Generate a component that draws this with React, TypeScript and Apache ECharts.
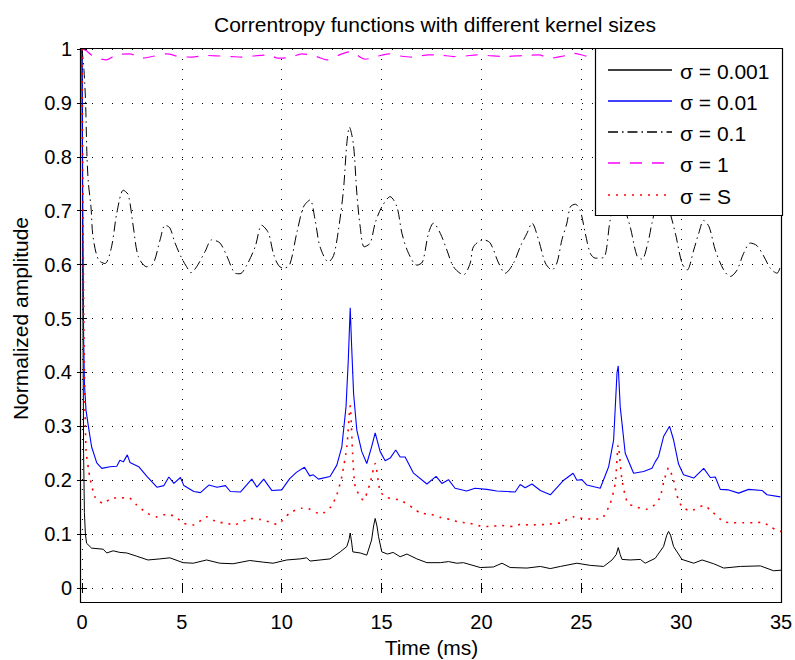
import React, { useEffect, useRef } from "react";
import * as echarts from "echarts";

const titleText = "Correntropy functions with different kernel sizes";
const xName = "Time (ms)";
const yName = "Normalized amplitude";
const legendNames = ["σ = 0.001", "σ = 0.01", "σ = 0.1", "σ = 1", "σ = S"];

const sigma0001: [number, number][] = [
  [0, 1], [0.04, 0.55], [0.08, 0.25], [0.12, 0.14], [0.17, 0.1], [0.23, 0.083], [0.48, 0.074], [1.06, 0.072],
  [1.24, 0.065], [1.56, 0.069], [1.9, 0.066], [2.24, 0.065], [2.74, 0.059], [3.3, 0.052], [3.9, 0.054],
  [4.4, 0.056], [5.06, 0.047], [5.57, 0.046], [6.24, 0.052], [6.9, 0.046], [7.57, 0.045], [8.4, 0.051],
  [9.07, 0.048], [9.57, 0.046], [10.25, 0.052], [10.92, 0.054], [11.25, 0.056], [11.42, 0.05], [11.92, 0.052],
  [12.42, 0.054], [12.93, 0.067], [13.26, 0.077], [13.37, 0.09], [13.43, 0.102], [13.5, 0.085], [13.56, 0.067],
  [13.93, 0.065], [14.26, 0.061], [14.5, 0.089], [14.6, 0.115], [14.68, 0.129], [14.77, 0.115], [14.85, 0.095],
  [15.01, 0.067], [15.3, 0.063], [15.58, 0.066], [15.93, 0.058], [16.27, 0.063], [16.77, 0.054], [17.27, 0.047],
  [17.94, 0.047], [18.35, 0.049], [18.77, 0.046], [19.1, 0.047], [19.94, 0.038], [20.6, 0.039], [21.03, 0.046],
  [21.44, 0.038], [22.28, 0.037], [22.95, 0.04], [23.45, 0.036], [23.95, 0.04], [24.78, 0.046], [25.45, 0.042],
  [26.12, 0.04], [26.54, 0.052], [26.75, 0.062], [26.85, 0.075], [26.95, 0.062], [27.04, 0.053], [27.45, 0.052],
  [27.96, 0.053], [28.2, 0.046], [28.7, 0.055], [29.12, 0.077], [29.28, 0.098], [29.37, 0.105], [29.47, 0.098],
  [29.62, 0.077], [30.04, 0.053], [30.63, 0.046], [31.05, 0.052], [31.63, 0.045], [32.13, 0.037], [32.97, 0.04],
  [33.97, 0.041], [34.63, 0.032], [35, 0.033],
];

const sigma001: [number, number][] = [
  [0, 1], [0.04, 0.7], [0.08, 0.47], [0.12, 0.38], [0.2, 0.33], [0.32, 0.3], [0.48, 0.262], [0.74, 0.232],
  [0.99, 0.222], [1.4, 0.225], [1.74, 0.226], [1.9, 0.237], [2.07, 0.234], [2.27, 0.247], [2.4, 0.233],
  [2.84, 0.225], [3.25, 0.207], [3.75, 0.187], [4.1, 0.19], [4.35, 0.206], [4.6, 0.194], [4.93, 0.205],
  [5.1, 0.19], [5.6, 0.179], [5.93, 0.177], [6.35, 0.191], [6.76, 0.187], [7.18, 0.19], [7.43, 0.179],
  [7.93, 0.178], [8.5, 0.202], [8.76, 0.187], [9.1, 0.202], [9.5, 0.181], [10.0, 0.182], [10.4, 0.203],
  [10.75, 0.215], [11.14, 0.224], [11.4, 0.208], [11.58, 0.21], [11.84, 0.202], [12.42, 0.207], [12.76, 0.228],
  [13.01, 0.262], [13.22, 0.336], [13.33, 0.42], [13.43, 0.52], [13.5, 0.45], [13.6, 0.36], [13.76, 0.293],
  [14.01, 0.253], [14.26, 0.231], [14.5, 0.262], [14.68, 0.288], [14.93, 0.253], [15.18, 0.236], [15.43, 0.241],
  [15.71, 0.256], [15.93, 0.243], [16.18, 0.243], [16.6, 0.213], [17.27, 0.193], [17.73, 0.207], [18.02, 0.194],
  [18.35, 0.201], [18.68, 0.185], [19.26, 0.18], [19.68, 0.185], [20.27, 0.183], [20.77, 0.18], [21.27, 0.179],
  [21.69, 0.178], [21.94, 0.192], [22.19, 0.186], [22.53, 0.193], [22.95, 0.181], [23.45, 0.173], [24.12, 0.2],
  [24.59, 0.213], [24.78, 0.2], [25.03, 0.201], [25.28, 0.191], [25.95, 0.185], [26.37, 0.225], [26.62, 0.275],
  [26.79, 0.4], [26.85, 0.412], [26.95, 0.336], [27.2, 0.25], [27.62, 0.213], [28.12, 0.216], [28.54, 0.222],
  [28.7, 0.234], [28.87, 0.244], [29.12, 0.281], [29.42, 0.3], [29.62, 0.275], [29.87, 0.23], [30.12, 0.21],
  [30.63, 0.204], [31.13, 0.222], [31.46, 0.205], [31.71, 0.206], [31.96, 0.183], [32.38, 0.182], [32.88, 0.176],
  [33.38, 0.183], [34.05, 0.181], [34.3, 0.173], [34.97, 0.169],
];

const sigma01: [number, number][] = [
  [0, 1], [0.1, 0.96], [0.18, 0.9], [0.25, 0.8], [0.32, 0.751], [0.45, 0.707], [0.55, 0.652], [0.82, 0.609],
  [1.15, 0.602], [1.48, 0.633], [1.74, 0.695], [2.07, 0.738], [2.32, 0.729], [2.57, 0.67], [2.82, 0.615],
  [3.24, 0.596], [3.57, 0.602], [3.91, 0.646], [4.16, 0.673], [4.4, 0.668], [4.66, 0.64], [4.99, 0.612],
  [5.24, 0.596], [5.45, 0.585], [5.74, 0.596], [6.16, 0.624], [6.5, 0.646], [6.91, 0.64], [7.25, 0.616],
  [7.67, 0.584], [7.91, 0.583], [8.25, 0.599], [8.67, 0.633], [9.0, 0.673], [9.33, 0.659], [9.58, 0.621],
  [9.83, 0.599], [10.09, 0.593], [10.4, 0.6], [10.75, 0.658], [11.09, 0.707], [11.42, 0.72], [11.67, 0.683],
  [11.92, 0.633], [12.34, 0.605], [12.6, 0.617], [12.84, 0.664], [13.09, 0.738], [13.26, 0.825], [13.39, 0.855],
  [13.59, 0.823], [13.76, 0.733], [13.93, 0.67], [14.13, 0.633], [14.43, 0.64], [14.68, 0.677], [15.01, 0.707],
  [15.43, 0.726], [15.77, 0.707], [16.02, 0.658], [16.35, 0.621], [16.77, 0.599], [17.05, 0.605], [17.35, 0.658],
  [17.6, 0.677], [17.94, 0.658], [18.27, 0.627], [18.6, 0.596], [19.1, 0.581], [19.44, 0.603], [19.6, 0.633],
  [20.1, 0.646], [20.44, 0.64], [20.86, 0.603], [21.19, 0.584], [21.61, 0.603], [21.94, 0.633], [22.28, 0.658],
  [22.53, 0.677], [22.86, 0.646], [23.2, 0.603], [23.53, 0.59], [23.78, 0.603], [24.03, 0.646], [24.28, 0.677],
  [24.45, 0.707], [24.7, 0.712], [24.95, 0.7], [25.2, 0.658], [25.45, 0.621], [25.7, 0.612], [26.12, 0.613],
  [26.45, 0.683], [26.8, 0.73], [27.1, 0.71], [27.45, 0.67], [27.79, 0.616], [28.04, 0.61], [28.37, 0.646],
  [28.54, 0.677], [28.9, 0.72], [29.3, 0.71], [29.71, 0.658], [30.04, 0.603], [30.3, 0.59], [30.63, 0.627],
  [30.88, 0.658], [31.13, 0.682], [31.4, 0.67], [31.71, 0.627], [32.13, 0.59], [32.46, 0.578], [32.8, 0.59],
  [33.13, 0.621], [33.47, 0.64], [33.8, 0.635], [34.13, 0.616], [34.47, 0.593], [34.8, 0.584], [35, 0.6],
];

const sigma1: [number, number][] = [
  [0, 1], [0.2, 0.997], [0.47, 0.989], [0.8, 0.983], [1.22, 0.98], [1.72, 0.989], [2.39, 0.991], [2.97, 0.983],
  [3.64, 0.987], [4.22, 0.991], [4.89, 0.986], [5.48, 0.985], [6.23, 0.988], [6.9, 0.987], [7.48, 0.986],
  [7.98, 0.985], [8.57, 0.987], [9.32, 0.989], [9.82, 0.983], [10.49, 0.985], [10.99, 0.991], [11.74, 0.986],
  [12.24, 0.98], [13.01, 0.991], [13.43, 0.995], [14.18, 0.981], [14.76, 0.986], [15.35, 0.991], [15.93, 0.987],
  [16.52, 0.985], [17.35, 0.989], [17.9, 0.989], [18.6, 0.986], [19.2, 0.987], [19.77, 0.989], [20.3, 0.988],
  [21.1, 0.986], [22.11, 0.988], [22.86, 0.989], [23.45, 0.983], [24.11, 0.987], [24.61, 0.992], [25.36, 0.986],
  [26.0, 0.985], [26.85, 0.99], [27.5, 0.985], [28.3, 0.987], [29.4, 0.991], [30.2, 0.985], [31.0, 0.987],
  [32.0, 0.984], [33.0, 0.988], [34.0, 0.985], [35, 0.986],
];

const sigmaS: [number, number][] = [
  [0, 1], [0.05, 0.7], [0.1, 0.45], [0.2, 0.256], [0.32, 0.222], [0.4, 0.204], [0.65, 0.169], [1.06, 0.157],
  [1.5, 0.167], [1.9, 0.167], [2.32, 0.168], [2.74, 0.154], [3.25, 0.139], [3.75, 0.132], [4.25, 0.137],
  [4.68, 0.132], [5.1, 0.12], [5.6, 0.117], [6.24, 0.132], [6.76, 0.122], [7.18, 0.121], [7.6, 0.117],
  [8.43, 0.129], [8.93, 0.127], [9.43, 0.122], [9.77, 0.118], [10.4, 0.139], [11.0, 0.148], [11.34, 0.147],
  [11.96, 0.137], [12.47, 0.151], [12.76, 0.173], [13.01, 0.207], [13.26, 0.262], [13.43, 0.338], [13.55, 0.25],
  [13.68, 0.188], [14.09, 0.163], [14.43, 0.195], [14.68, 0.231], [14.93, 0.179], [15.26, 0.168], [15.93, 0.163],
  [16.6, 0.148], [16.94, 0.139], [17.44, 0.137], [17.94, 0.131], [18.44, 0.127], [18.93, 0.122], [19.43, 0.12],
  [19.94, 0.115], [20.44, 0.114], [20.94, 0.116], [21.6, 0.114], [21.94, 0.118], [22.44, 0.117], [23.2, 0.118],
  [23.95, 0.121], [24.62, 0.132], [25.2, 0.128], [25.62, 0.128], [26.03, 0.129], [26.45, 0.157], [26.7, 0.194],
  [26.85, 0.265], [27.04, 0.2], [27.32, 0.158], [27.79, 0.15], [28.26, 0.146], [28.7, 0.155], [28.95, 0.169],
  [29.15, 0.2], [29.37, 0.223], [29.62, 0.2], [29.79, 0.172], [30.04, 0.151], [30.46, 0.143], [31.13, 0.153],
  [31.54, 0.142], [32.13, 0.123], [32.63, 0.121], [33.13, 0.121], [33.63, 0.121], [34.05, 0.122], [34.46, 0.114],
  [34.83, 0.106], [35, 0.105],
];

const FONT = "'Liberation Sans', Arial, Helvetica, sans-serif";

const styles = [
  { color: "#000000", type: "solid" as any, width: 1 },
  { color: "#0000ff", type: "solid" as any, width: 1.1 },
  { color: "#000000", type: [10, 4, 1.5, 4] as any, width: 1 },
  { color: "#ff00ff", type: [12, 10] as any, width: 1.2 },
  { color: "#ff0000", type: [2, 6] as any, width: 1.6 },
];

export default function App() {
  const ref = useRef<HTMLDivElement>(null);
  useEffect(() => {
    if (!ref.current) return;
    const chart = echarts.init(ref.current, undefined, { renderer: "svg" });
    const datasets = [sigma0001, sigma001, sigma01, sigma1, sigmaS];
    const smooths = [0, 0, 0.3, 0.3, 0.2];
    const gridDots = { show: true, lineStyle: { color: "#000", width: 1, type: [1, 9] as any } };
    const legendX = 595, legendY = 48, legendW = 187, legendH = 167;
    const itemYs = [70, 101, 132, 163, 195];
    const legendEls: any[] = [
      {
        type: "rect",
        shape: { x: legendX + 0.5, y: legendY + 0.5, width: legendW, height: legendH },
        style: { fill: "#fff", stroke: "#000", lineWidth: 1.2 },
        z: 100,
      },
    ];
    legendNames.forEach((n, i) => {
      const st: any = { stroke: styles[i].color, lineWidth: Math.max(1.3, styles[i].width) };
      if (styles[i].type !== "solid") st.lineDash = styles[i].type;
      legendEls.push({
        type: "line",
        shape: { x1: 608, y1: itemYs[i], x2: 672, y2: itemYs[i] },
        style: st,
        z: 101,
      });
      legendEls.push({
        type: "text",
        x: 680,
        y: itemYs[i] + 1,
        style: { text: n, fill: "#000", font: `21px ${FONT}`, verticalAlign: "middle", align: "left" },
        z: 101,
      });
    });

    chart.setOption({
      animation: false,
      backgroundColor: "#fff",
      grid: { left: 82, right: 14, top: 49, bottom: 72, containLabel: false, outerBoundsMode: "none" },
      title: {
        text: titleText,
        left: 430,
        top: 9,
        textAlign: "center",
        textStyle: { fontFamily: FONT, fontSize: 21, fontWeight: "normal", color: "#000" },
      },
      xAxis: [
        {
          type: "value", min: 0, max: 35, interval: 5, position: "bottom", offset: 14,
          axisLine: { show: false },
          axisTick: { show: true, inside: true, length: 5, lineStyle: { color: "#000" } },
          axisLabel: { fontFamily: FONT, fontSize: 20, color: "#000", margin: 10 },
          splitLine: gridDots,
          name: xName, nameLocation: "middle", nameGap: 35,
          nameTextStyle: { fontFamily: FONT, fontSize: 21, color: "#000" },
        },
        {
          type: "value", min: 0, max: 35, interval: 5, position: "top", offset: 1,
          axisLine: { show: false },
          axisTick: { show: true, inside: true, length: 5, lineStyle: { color: "#000" } },
          axisLabel: { show: false },
          splitLine: { show: false },
        },
      ],
      yAxis: [
        {
          type: "value", min: 0, max: 1, interval: 0.1, position: "left", offset: 2,
          axisLine: { show: false },
          axisTick: { show: true, inside: true, length: 5, lineStyle: { color: "#000" } },
          axisLabel: { fontFamily: FONT, fontSize: 20, color: "#000", margin: 8 },
          splitLine: gridDots,
          name: yName, nameLocation: "middle", nameGap: 49, nameRotate: 90,
          nameTextStyle: { fontFamily: FONT, fontSize: 21, color: "#000" },
        },
        {
          type: "value", min: 0, max: 1, interval: 0.1, position: "right", offset: 0,
          axisLine: { show: false },
          axisTick: { show: true, inside: true, length: 5, lineStyle: { color: "#000" } },
          axisLabel: { show: false },
          splitLine: { show: false },
        },
      ],
      series: datasets.map((d, i) => ({
        type: "line",
        name: legendNames[i],
        data: d,
        xAxisIndex: 0,
        yAxisIndex: 0,
        showSymbol: false,
        symbol: "none",
        smooth: smooths[i],
        lineStyle: { color: styles[i].color, width: styles[i].width, type: styles[i].type },
        z: 2 + i,
      })),
      graphic: [
        {
          type: "rect",
          shape: { x: 80.5, y: 48.5, width: 701, height: 554 },
          style: { fill: "none", stroke: "#000", lineWidth: 1.2 },
          z: 50,
          silent: true,
        },
        ...legendEls,
      ],
    });
    return () => chart.dispose();
  }, []);
  return (
    <div
      ref={ref}
      style={{ position: "fixed", left: 0, top: 0, width: 795, height: 660 }}
    />
  );
}
